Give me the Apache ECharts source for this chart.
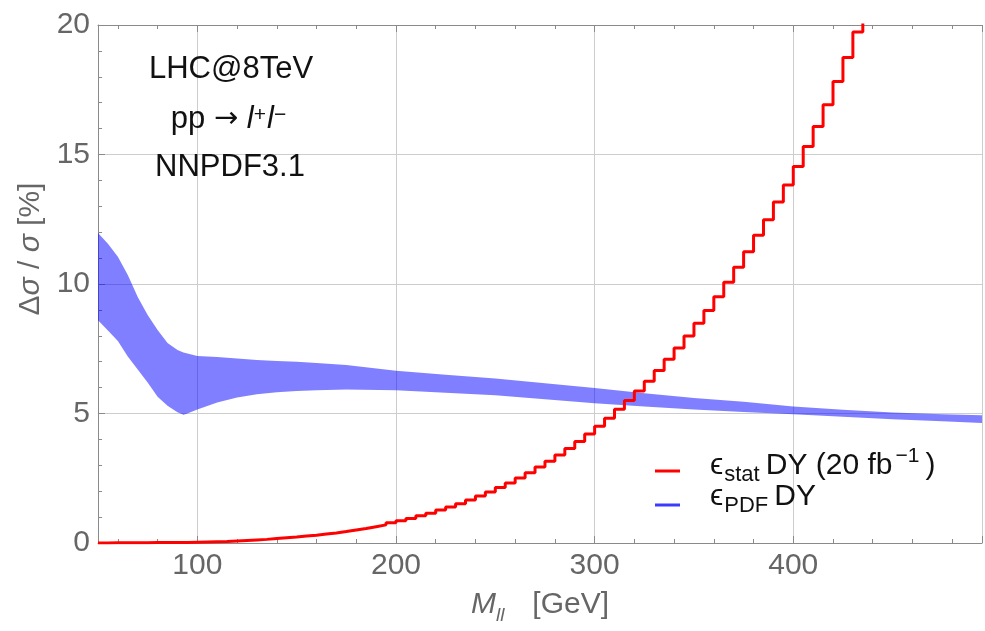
<!DOCTYPE html>
<html>
<head>
<meta charset="utf-8">
<script src="https://cdn.jsdelivr.net/npm/echarts@6/dist/echarts.min.js"></script>
<style>
  html, body { margin: 0; padding: 0; background: #ffffff; }
  #chart { width: 985px; height: 631px; }
</style>
</head>
<body>
<div id="chart"></div>
<script>
// Statistical uncertainty of the Drell-Yan cross section (20 fb^-1), 5 GeV mass bins starting at 50 GeV
const statBinStart = 50;
const statBinWidth = 5;
const statValues = [
  0.00, 0.01, 0.01, 0.01, 0.01, 0.02, 0.02, 0.02, 0.02, 0.03,
  0.04, 0.05, 0.06, 0.08, 0.10, 0.12, 0.14, 0.17, 0.20, 0.23,
  0.27, 0.30, 0.35, 0.39, 0.44, 0.50, 0.56, 0.63, 0.70, 0.78,
  0.86, 0.95, 1.05, 1.15, 1.27, 1.39, 1.52, 1.66, 1.81, 1.97,
  2.14, 2.32, 2.51, 2.71, 2.93, 3.16, 3.40, 3.65, 3.92, 4.21,
  4.51, 4.82, 5.16, 5.50, 5.87, 6.25, 6.66, 7.09, 7.53, 7.99,
  8.48, 8.98, 9.51, 10.07, 10.65, 11.25, 11.88, 12.48, 13.17, 13.82,
  14.54, 15.31, 16.08, 16.92, 17.82, 18.75, 19.73, 20.69
];

// PDF uncertainty band (NNPDF3.1): lower / upper edge versus dilepton mass
const pdfMass = [50, 55, 60, 65, 70, 75, 80, 85, 90, 93, 95, 100, 110, 120, 130, 140, 150, 160, 175, 200, 225, 250, 275, 300, 325, 350, 375, 400, 425, 450, 475, 495];
const pdfHigh = [11.97, 11.55, 11.05, 10.35, 9.5, 8.8, 8.22, 7.72, 7.45, 7.36, 7.32, 7.22, 7.18, 7.12, 7.07, 7.03, 7.0, 6.95, 6.87, 6.65, 6.5, 6.35, 6.17, 5.98, 5.78, 5.6, 5.45, 5.27, 5.14, 5.04, 4.97, 4.93];
const pdfLow  = [8.6, 8.2, 7.8, 7.2, 6.7, 6.2, 5.65, 5.3, 5.05, 4.95, 5.0, 5.15, 5.42, 5.62, 5.74, 5.82, 5.87, 5.9, 5.93, 5.9, 5.8, 5.7, 5.55, 5.4, 5.27, 5.15, 5.06, 4.97, 4.87, 4.78, 4.7, 4.63];

// Axis tick labels
const xTickLabels = [100, 200, 300, 400];
const yTickLabels = [0, 5, 10, 15, 20];

const FONT = '"Liberation Sans", Arial, "DejaVu Sans", sans-serif';
const LABEL_GRAY = '#666666';
const AXIS_GRAY = '#8a8a8a';
const GRID_GRAY = '#cdcdcd';

// Step-line points: left edge of each bin, plus the closing right edge of the last bin
const statPoints = statValues.map((v, i) => [statBinStart + i * statBinWidth, v]);
statPoints.push([statBinStart + statValues.length * statBinWidth, statValues[statValues.length - 1]]);

const chart = echarts.init(document.getElementById('chart'), null, { renderer: 'canvas' });

const frameAxis = {
  type: 'value',
  min: 50,
  max: 495,
  minInterval: 100,
  maxInterval: 100,
  axisLine: { show: true, lineStyle: { color: AXIS_GRAY, width: 1 } },
  axisTick: { show: true, inside: true, length: 7, lineStyle: { color: AXIS_GRAY } },
  minorTick: { show: true, splitNumber: 5, length: 4, lineStyle: { color: AXIS_GRAY } }
};

const option = {
  animation: false,
  backgroundColor: '#ffffff',
  grid: { left: 98, right: -3, top: 25, bottom: 88, containLabel: false },
  xAxis: [
    Object.assign({}, frameAxis, {
      position: 'bottom',
      splitLine: { show: true, lineStyle: { color: GRID_GRAY, width: 1 } },
      axisLabel: {
        fontFamily: FONT, fontSize: 30, color: LABEL_GRAY, margin: 8,
        formatter: v => (xTickLabels.indexOf(v) >= 0 ? String(v) : '')
      },
      name: '{i|M}{s|ll}{n|[GeV]}',
      nameLocation: 'middle',
      nameGap: 42,
      nameTextStyle: {
        rich: {
          i: { fontFamily: FONT, fontSize: 30, fontStyle: 'italic', color: LABEL_GRAY, lineHeight: 40 },
          s: { fontFamily: FONT, fontSize: 19, fontStyle: 'italic', color: LABEL_GRAY, lineHeight: 26, verticalAlign: 'bottom' },
          n: { fontFamily: FONT, fontSize: 30, color: LABEL_GRAY, lineHeight: 40, padding: [0, 0, 0, 28] }
        }
      }
    }),
    Object.assign({}, frameAxis, {
      position: 'top',
      splitLine: { show: false },
      axisLabel: { show: false }
    })
  ],
  yAxis: {
    type: 'value',
    min: 0,
    max: 20,
    interval: 5,
    axisLine: { show: true, lineStyle: { color: AXIS_GRAY, width: 1 } },
    axisTick: { show: true, inside: true, length: 7, lineStyle: { color: AXIS_GRAY } },
    minorTick: { show: true, splitNumber: 5, length: 4, lineStyle: { color: AXIS_GRAY } },
    splitLine: { show: true, lineStyle: { color: GRID_GRAY, width: 1 } },
    axisLabel: {
      fontFamily: FONT, fontSize: 30, color: LABEL_GRAY, margin: 8,
      formatter: v => (yTickLabels.indexOf(v) >= 0 ? String(v) : '')
    },
    name: '{n|Δ}{i|σ}{n| / }{i|σ}{n| [%]}',
    nameLocation: 'middle',
    nameGap: 37,
    nameTextStyle: {
      padding: [0, 0, 0, 70],
      rich: {
        n: { fontFamily: FONT, fontSize: 30, color: LABEL_GRAY, lineHeight: 36 },
        i: { fontFamily: FONT, fontSize: 30, fontStyle: 'italic', color: LABEL_GRAY, lineHeight: 36 }
      }
    }
  },
  series: [
    {
      // PDF uncertainty band drawn as one filled polygon through the axis scales
      type: 'custom',
      name: 'pdf',
      xAxisIndex: 0,
      yAxisIndex: 0,
      z: 1,
      silent: true,
      clip: true,
      data: pdfMass.map((m, i) => [m, pdfLow[i], pdfHigh[i]]),
      encode: { x: 0, y: [1, 2] },
      renderItem: (params, api) => {
        if (params.dataIndex !== 0) return null;
        const pts = [];
        for (let i = 0; i < pdfMass.length; i++) pts.push(api.coord([pdfMass[i], pdfHigh[i]]));
        for (let i = pdfMass.length - 1; i >= 0; i--) pts.push(api.coord([pdfMass[i], pdfLow[i]]));
        return { type: 'polygon', shape: { points: pts }, style: { fill: 'rgba(0,0,255,0.5)' } };
      }
    },
    {
      // Statistical uncertainty as a histogram-style step line
      type: 'line',
      name: 'stat',
      xAxisIndex: 0,
      yAxisIndex: 0,
      z: 3,
      step: 'end',
      symbol: 'none',
      showSymbol: false,
      clip: true,
      lineStyle: { color: '#ff0000', width: 3 },
      data: statPoints
    }
  ],
  graphic: [
    // Process annotation
    {
      type: 'text', x: 231, y: 69, z: 10,
      style: { text: 'LHC@8TeV', fontFamily: FONT, fontSize: 31, fill: '#111111', align: 'center', verticalAlign: 'middle' }
    },
    {
      type: 'text', x: 229, y: 119, z: 10,
      style: {
        text: '{n|pp }{a|→}{n| }{i|l}{p|+}{i|l}{p|−}',
        align: 'center', verticalAlign: 'middle',
        rich: {
          n: { fontFamily: FONT, fontSize: 31, fill: '#111111', lineHeight: 40 },
          a: { fontFamily: '"DejaVu Sans", sans-serif', fontSize: 29, fill: '#111111', lineHeight: 40 },
          i: { fontFamily: FONT, fontSize: 31, fontStyle: 'italic', fill: '#111111', lineHeight: 40 },
          p: { fontFamily: FONT, fontSize: 21, fill: '#111111', lineHeight: 21, padding: [0, 1, 8, 0] }
        }
      }
    },
    {
      type: 'text', x: 230, y: 167, z: 10,
      style: { text: 'NNPDF3.1', fontFamily: FONT, fontSize: 31, fill: '#111111', align: 'center', verticalAlign: 'middle' }
    },
    // Legend
    {
      type: 'line', z: 10,
      shape: { x1: 655, y1: 471, x2: 680, y2: 471 },
      style: { stroke: '#ff0000', lineWidth: 3 }
    },
    {
      type: 'text', x: 710, y: 466, z: 10,
      style: {
        text: '{e|ϵ}{s|stat}{n|DY (20 fb}{p|−1}{n|)}',
        align: 'left', verticalAlign: 'middle',
        rich: {
          e: { fontFamily: FONT, fontSize: 30, fill: '#111111', lineHeight: 40 },
          s: { fontFamily: FONT, fontSize: 22, fill: '#111111', lineHeight: 26, verticalAlign: 'bottom', padding: [0, 6, 0, 1] },
          n: { fontFamily: FONT, fontSize: 30, fill: '#111111', lineHeight: 40 },
          p: { fontFamily: FONT, fontSize: 21, fill: '#111111', lineHeight: 21, verticalAlign: 'top', padding: [0, 6, 0, 3] }
        }
      }
    },
    {
      type: 'line', z: 10,
      shape: { x1: 655, y1: 505, x2: 680, y2: 505 },
      style: { stroke: '#3c3cff', lineWidth: 3 }
    },
    {
      type: 'text', x: 710, y: 497, z: 10,
      style: {
        text: '{e|ϵ}{s|PDF}{n|DY}',
        align: 'left', verticalAlign: 'middle',
        rich: {
          e: { fontFamily: FONT, fontSize: 30, fill: '#111111', lineHeight: 40 },
          s: { fontFamily: FONT, fontSize: 22, fill: '#111111', lineHeight: 26, verticalAlign: 'bottom', padding: [0, 6, 0, 1] },
          n: { fontFamily: FONT, fontSize: 30, fill: '#111111', lineHeight: 40 }
        }
      }
    }
  ]
};

chart.setOption(option);
</script>
</body>
</html>
